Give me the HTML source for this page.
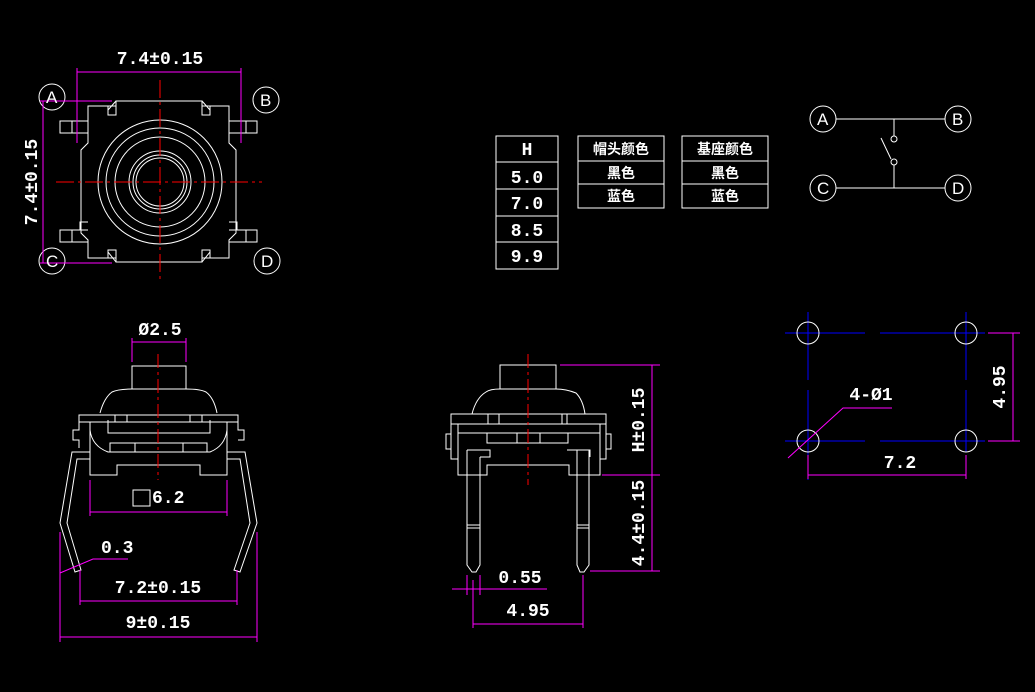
<!DOCTYPE html>
<html><head><meta charset="utf-8"><style>
html,body{margin:0;padding:0;background:#000;width:1035px;height:692px;overflow:hidden}
svg{display:block}
text{font-family:"Liberation Mono","Noto Sans CJK SC",monospace;fill:#fff;font-size:18px;font-weight:bold}
.cn{font-family:"Liberation Sans","Noto Sans CJK SC",sans-serif;font-size:14px;font-weight:bold}
</style></head><body>
<svg width="1035" height="692" viewBox="0 0 1035 692" xmlns="http://www.w3.org/2000/svg">
<rect width="1035" height="692" fill="#000"/>
<!-- TOP VIEW -->
<g fill="none" stroke="#fff" stroke-width="1">
<circle cx="52" cy="97" r="13"/><circle cx="266" cy="100" r="13"/>
<circle cx="52" cy="261" r="13"/><circle cx="267" cy="261" r="13"/>
<path d="M116 101 H202 V106 H229 V143 L236 150 V233 L229 240 V258 H202 V262 H116 V258 H88 V240 L81 233 V150 L88 143 V106 H116 Z"/>
<path d="M116 101 L108 110 M202 101 L210 110 M116 262 L108 252 M202 262 L210 252"/>
<rect x="108" y="106" width="8" height="9"/><rect x="202" y="106" width="8" height="9"/>
<rect x="108" y="250" width="8" height="8"/><rect x="202" y="250" width="8" height="8"/>
<path d="M88 121 H60 V133 H88 M72 121 V133"/>
<path d="M229 121 H257 V133 H229 M246 121 V133"/>
<path d="M88 230 H60 V242 H88 M72 230 V242 M88 222 H80 V230"/>
<path d="M229 230 H257 V242 H229 M246 230 V242 M229 222 H237 V230"/>
<circle cx="160" cy="182" r="62"/><circle cx="160" cy="182" r="54"/>
<circle cx="160" cy="182" r="45"/><circle cx="160" cy="182" r="31"/>
<circle cx="160" cy="182" r="27"/><circle cx="160" cy="182" r="24"/>
</g>
<g stroke="#f00" stroke-width="1" stroke-dasharray="18,4,3,4">
<line x1="56" y1="182" x2="262" y2="182"/><line x1="160" y1="80" x2="160" y2="282"/>
</g>
<g stroke="#f0f" stroke-width="1" fill="none">
<path d="M77 72 H241 M77 68 V143 M241 68 V143"/>
<path d="M40 101 H112 M40 263 H112 M43 101 V263"/>
</g>
<text x="160" y="64" text-anchor="middle">7.4±0.15</text>
<text transform="translate(37,182) rotate(-90)" text-anchor="middle">7.4±0.15</text>
<g><text x="46" y="103" style="font-family:'Liberation Sans';font-size:17px;font-weight:normal">A</text>
<text x="260" y="106" style="font-family:'Liberation Sans';font-size:17px;font-weight:normal">B</text>
<text x="46" y="267" style="font-family:'Liberation Sans';font-size:17px;font-weight:normal">C</text>
<text x="261" y="267" style="font-family:'Liberation Sans';font-size:17px;font-weight:normal">D</text></g>

<!-- TABLES -->
<g fill="none" stroke="#fff" stroke-width="1">
<rect x="496" y="136" width="62" height="133"/>
<path d="M496 162 H558 M496 189 H558 M496 216 H558 M496 242 H558"/>
<rect x="578" y="136" width="86" height="72"/><path d="M578 161 H664 M578 184 H664"/>
<rect x="682" y="136" width="86" height="72"/><path d="M682 161 H768 M682 184 H768"/>
</g>
<g text-anchor="middle">
<text x="527" y="155" font-size="16">H</text>
<text x="527" y="183">5.0</text><text x="527" y="209">7.0</text>
<text x="527" y="236">8.5</text><text x="527" y="262">9.9</text>
<text class="cn" x="621" y="154">帽头颜色</text><text class="cn" x="621" y="178">黑色</text><text class="cn" x="621" y="201">蓝色</text>
<text class="cn" x="725" y="154">基座颜色</text><text class="cn" x="725" y="178">黑色</text><text class="cn" x="725" y="201">蓝色</text>
</g>

<!-- SCHEMATIC -->
<g fill="none" stroke="#fff" stroke-width="1">
<circle cx="823" cy="119" r="13"/><circle cx="958" cy="119" r="13"/>
<circle cx="823" cy="188" r="13"/><circle cx="958" cy="188" r="13"/>
<path d="M836 119 H945 M836 188 H945 M894 119 V136 M894 165 V188 M881 138 L891 159"/>
<circle cx="894" cy="139" r="3"/><circle cx="894" cy="162" r="3"/>
</g>
<g><text x="817" y="125" style="font-family:'Liberation Sans';font-size:17px;font-weight:normal">A</text>
<text x="952" y="125" style="font-family:'Liberation Sans';font-size:17px;font-weight:normal">B</text>
<text x="817" y="194" style="font-family:'Liberation Sans';font-size:17px;font-weight:normal">C</text>
<text x="952" y="194" style="font-family:'Liberation Sans';font-size:17px;font-weight:normal">D</text></g>

<!-- FRONT VIEW -->
<g fill="none" stroke="#fff" stroke-width="1">
<rect x="132" y="366" width="54" height="23"/>
<path d="M100 413 Q104 398 112 392 Q118 389 132 389 H186 Q200 389 206 392 Q214 398 217 413"/>
<path d="M79 415 H238 V422 H79 Z M90 422 V475 H117 V465 H200 V475 H227 V422"/>
<path d="M79 422 V430 H73 V440 H79 V448 M238 422 V430 H244 V440 H238"/>
<path d="M108 420 V433 H210 V420 M115 415 V422 M127 415 V422 M190 415 V422 M202 415 V422 M110 443 H207 V452 H110 Z M135 443 V452 M183 443 V452"/>
<path d="M90 430 Q92 446 108 452 H210 Q225 446 227 430"/>
<path d="M90 452 L72 452 L60 523 L75 572 L81 570 L67 523 L77 459 L90 459"/>
<path d="M227 452 L245 452 L257 523 L240 572 L234 570 L250 523 L240 459 L227 459"/>
<rect x="133" y="490" width="17" height="16"/>
</g>
<line x1="158" y1="354" x2="158" y2="480" stroke="#f00" stroke-dasharray="14,4,3,4"/>
<g stroke="#f0f" stroke-width="1" fill="none">
<path d="M132 338 V362 M186 338 V362 M132 342 H186"/>
<path d="M90 480 V516 M227 480 V516 M90 512 H227"/>
<path d="M80 570 V605 M237 570 V605 M80 601 H237"/>
<path d="M60 532 V642 M257 532 V642 M60 637 H257"/>
<path d="M128 559 H93 L60 573"/>
</g>
<text x="160" y="335" text-anchor="middle">Ø2.5</text>
<text x="152" y="503">6.2</text>
<text x="101" y="553">0.3</text>
<text x="158" y="593" text-anchor="middle">7.2±0.15</text>
<text x="158" y="628" text-anchor="middle">9±0.15</text>

<!-- SIDE VIEW -->
<g fill="none" stroke="#fff" stroke-width="1">
<rect x="500" y="365" width="56" height="24"/>
<path d="M472 414 Q476 398 486 392 Q490 389 500 389 H556 Q566 389 576 393 Q583 400 585 414"/>
<path d="M451 414 H606 V424 H451 Z M458 424 V475 H487 V465 H569 V475 H600 V424 M458 424 H600 V433 H458"/>
<path d="M451 424 V459 H458 M606 424 V459 H600 M446 434 H451 V449 H446 Z M606 434 H611 V449 H606 Z"/>
<path d="M487 433 V443 H568 V433 M517 433 V443 M540 433 V443 M488 414 V424 M499 414 V424 M562 414 V424 M567 414 V424"/>
<path d="M467 450 H490 V457 H480 M467 450 V565 L472 572 H476 L480 565 V457"/>
<path d="M567 450 H590 V457 M589 450 V565 L584 572 H580 L577 565 V450"/>
<path d="M467 525 H480 M467 528 H480 M577 525 H589 M577 528 H589"/>
</g>
<line x1="528" y1="354" x2="528" y2="485" stroke="#f00" stroke-dasharray="14,4,3,4"/>
<g stroke="#f0f" stroke-width="1" fill="none">
<path d="M560 365 H660 M602 475 H660 M590 571 H660 M652 365 V571"/>
<path d="M452 589 H547 M467 575 V595 M480 575 V595"/>
<path d="M473 580 V628 M583 575 V628 M473 624 H583"/>
</g>
<text transform="translate(644,420) rotate(-90)" text-anchor="middle">H±0.15</text>
<text transform="translate(644,523) rotate(-90)" text-anchor="middle">4.4±0.15</text>
<text x="520" y="583" text-anchor="middle">0.55</text>
<text x="528" y="616" text-anchor="middle">4.95</text>

<!-- FOOTPRINT -->
<g stroke="#00f" stroke-width="1" fill="none">
<path d="M785 333 H865 M880 333 H985 M785 441 H865 M880 441 H985"/>
<path d="M808 312 V380 M808 390 V480 M966 312 V380 M966 390 V452"/>
</g>
<g fill="none" stroke="#fff" stroke-width="1">
<circle cx="808" cy="333" r="11"/><circle cx="966" cy="333" r="11"/>
<circle cx="808" cy="441" r="11"/><circle cx="966" cy="441" r="11"/>
</g>
<g stroke="#f0f" stroke-width="1" fill="none">
<path d="M988 333 H1020 M988 441 H1020 M1013 333 V441"/>
<path d="M808 455 V479 M966 455 V479 M808 475 H966"/>
<path d="M892 408 H843 L788 458"/>
</g>
<text transform="translate(1005,387) rotate(-90)" text-anchor="middle">4.95</text>
<text x="900" y="468" text-anchor="middle">7.2</text>
<text x="871" y="400" text-anchor="middle">4-Ø1</text>
</svg>
</body></html>
